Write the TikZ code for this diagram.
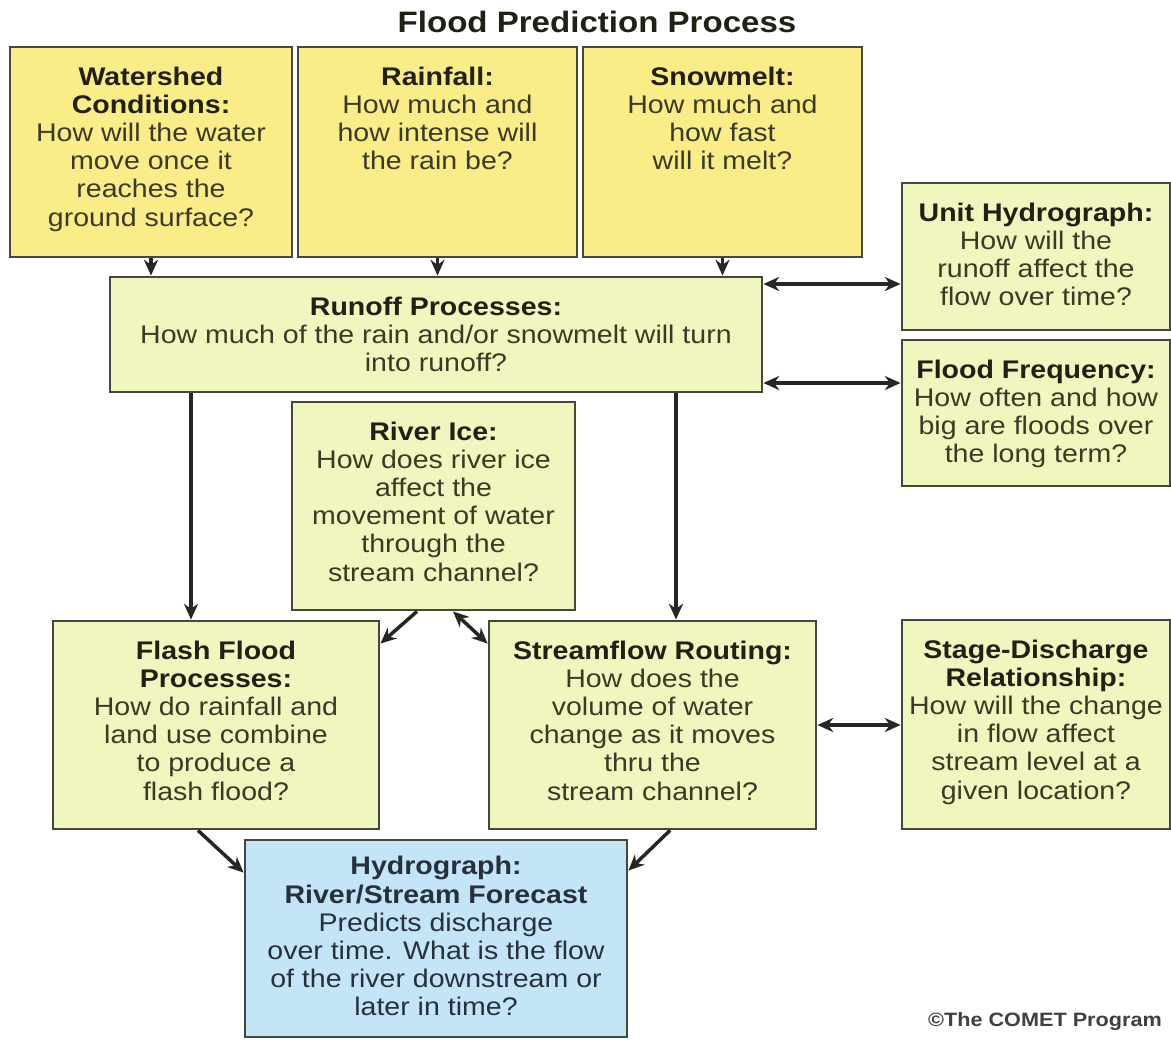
\documentclass[tikz,border=0pt]{standalone}
\usepackage{fontspec}
\setmainfont{Liberation Sans}[FakeStretch=1.12]
\usetikzlibrary{arrows.meta,positioning,calc,fit}

\definecolor{boxyellow}{RGB}{250,236,135}
\definecolor{boxgreen}{RGB}{241,245,190}
\definecolor{boxblue}{RGB}{196,228,247}
\definecolor{edgegray}{RGB}{70,72,58}
\definecolor{headtext}{RGB}{32,32,20}
\definecolor{bodytext}{RGB}{58,58,38}
\definecolor{bluetext}{RGB}{40,48,60}

\tikzset{
  qbox/.style={draw=edgegray, line width=1.6pt, inner sep=0pt},
  qtext/.style={align=center, inner sep=0pt, text=bodytext,
                font=\fontsize{14.5}{16}\selectfont},
  arr/.style={draw=black!85, line width=2pt, -{Stealth[length=9pt,width=8pt]}},
  dbl/.style={arr, {Stealth[length=9pt,width=8pt]}-{Stealth[length=9pt,width=8pt]}}
}
\newcommand{\qhead}[1]{{\bfseries\color{headtext}#1}}

\begin{document}
\begin{tikzpicture}[x=0.02cm, y=-0.02cm]
  \useasboundingbox (0,0) rectangle (1171,1040);

  \node[font=\bfseries\fontsize{16.8}{18}\selectfont, text=headtext] (title) at (597,22) {Flood Prediction Process};

  % top row
  \node[qbox, fill=boxyellow, fit={(10,47) (292,257)}] (ws) {};
  \node[qtext, below=12pt of ws.north] (ws-t) {\qhead{Watershed}\\\qhead{Conditions:}\\How will the water\\move once it\\reaches the\\ground surface?};
  \node[qbox, fill=boxyellow, fit={(298,47) (577,257)}] (rain) {};
  \node[qtext, below=12pt of rain.north] (rain-t) {\qhead{Rainfall:}\\How much and\\how intense will\\the rain be?};
  \node[qbox, fill=boxyellow, fit={(583,47) (862,257)}] (snow) {};
  \node[qtext, below=12pt of snow.north] (snow-t) {\qhead{Snowmelt:}\\How much and\\how fast\\will it melt?};

  % right column
  \node[qbox, fill=boxgreen, fit={(902,183) (1170,330)}] (unit) {};
  \node[qtext, below=12pt of unit.north] (unit-t) {\qhead{Unit Hydrograph:}\\How will the\\runoff affect the\\flow over time?};
  \node[qbox, fill=boxgreen, fit={(902,340) (1170,486)}] (freq) {};
  \node[qtext, below=12pt of freq.north] (freq-t) {\qhead{Flood Frequency:}\\How often and how\\big are floods over\\the long term?};
  \node[qbox, fill=boxgreen, fit={(902,620) (1170,829)}] (stage) {};
  \node[qtext, below=12pt of stage.north] (stage-t) {\qhead{Stage-Discharge}\\\qhead{Relationship:}\\How will the change\\in flow affect\\stream level at a\\given location?};

  % middle
  \node[qbox, fill=boxgreen, fit={(110,277) (762,392)}] (runoff) {};
  \node[qtext, below=12pt of runoff.north] (runoff-t) {\qhead{Runoff Processes:}\\How much of the rain and/or snowmelt will turn\\into runoff?};
  \node[qbox, fill=boxgreen, fit={(292,402) (575,610)}] (ice) {};
  \node[qtext, below=12pt of ice.north] (ice-t) {\qhead{River Ice:}\\How does river ice\\affect the\\movement of water\\through the\\stream channel?};
  \node[qbox, fill=boxgreen, fit={(53,621) (379,829)}] (flash) {};
  \node[qtext, below=12pt of flash.north] (flash-t) {\qhead{Flash Flood}\\\qhead{Processes:}\\How do rainfall and\\land use combine\\to produce a\\flash flood?};
  \node[qbox, fill=boxgreen, fit={(489,621) (816,829)}] (stream) {};
  \node[qtext, below=12pt of stream.north] (stream-t) {\qhead{Streamflow Routing:}\\How does the\\volume of water\\change as it moves\\thru the\\stream channel?};

  % forecast
  \node[qbox, fill=boxblue, fit={(245,840) (627,1037)}] (hydro) {};
  \node[qtext, text=bluetext, below=10pt of hydro.north] (hydro-t) {{\bfseries Hydrograph:}\\{\bfseries River/Stream Forecast}\\Predicts discharge\\over time. What is the flow\\of the river downstream or\\later in time?};

  \node[anchor=east, font=\bfseries\fontsize{11}{12}\selectfont, text=black!75] (comet) at (1168,1022) {©The COMET Program};

  % connectors
  \draw[arr] (ws.south) -- (ws.south |- runoff.north);
  \draw[arr] (rain.south) -- (rain.south |- runoff.north);
  \draw[arr] (snow.south) -- (snow.south |- runoff.north);

  \path ([yshift=-0.55cm]unit.west) coordinate (unit-in);
  \path ([yshift=0.6cm]freq.west) coordinate (freq-in);
  \draw[dbl] (runoff.east |- unit-in) -- (unit-in);
  \draw[dbl] (runoff.east |- freq-in) -- (freq-in);

  \path ([xshift=-0.5cm]flash.north) coordinate (flash-in);
  \path ([xshift=0.47cm]stream.north) coordinate (stream-in);
  \draw[arr] (runoff.south -| flash-in) -- (flash-in);
  \draw[arr] (runoff.south -| stream-in) -- (stream-in);

  \draw[arr] ([xshift=-0.33cm]ice.south) -- ([yshift=-0.48cm]flash.north east);
  \draw[dbl] ([xshift=0.39cm]ice.south) -- ([yshift=-0.48cm]stream.north west);

  \draw[dbl] (stream.east) -- (stream.east -| stage.west);

  \draw[arr] ([xshift=-0.36cm]flash.south) -- ([yshift=-0.68cm]hydro.north west);
  \draw[arr] ([xshift=0.35cm]stream.south) -- ([yshift=-0.64cm]hydro.north east);
\end{tikzpicture}
\end{document}
